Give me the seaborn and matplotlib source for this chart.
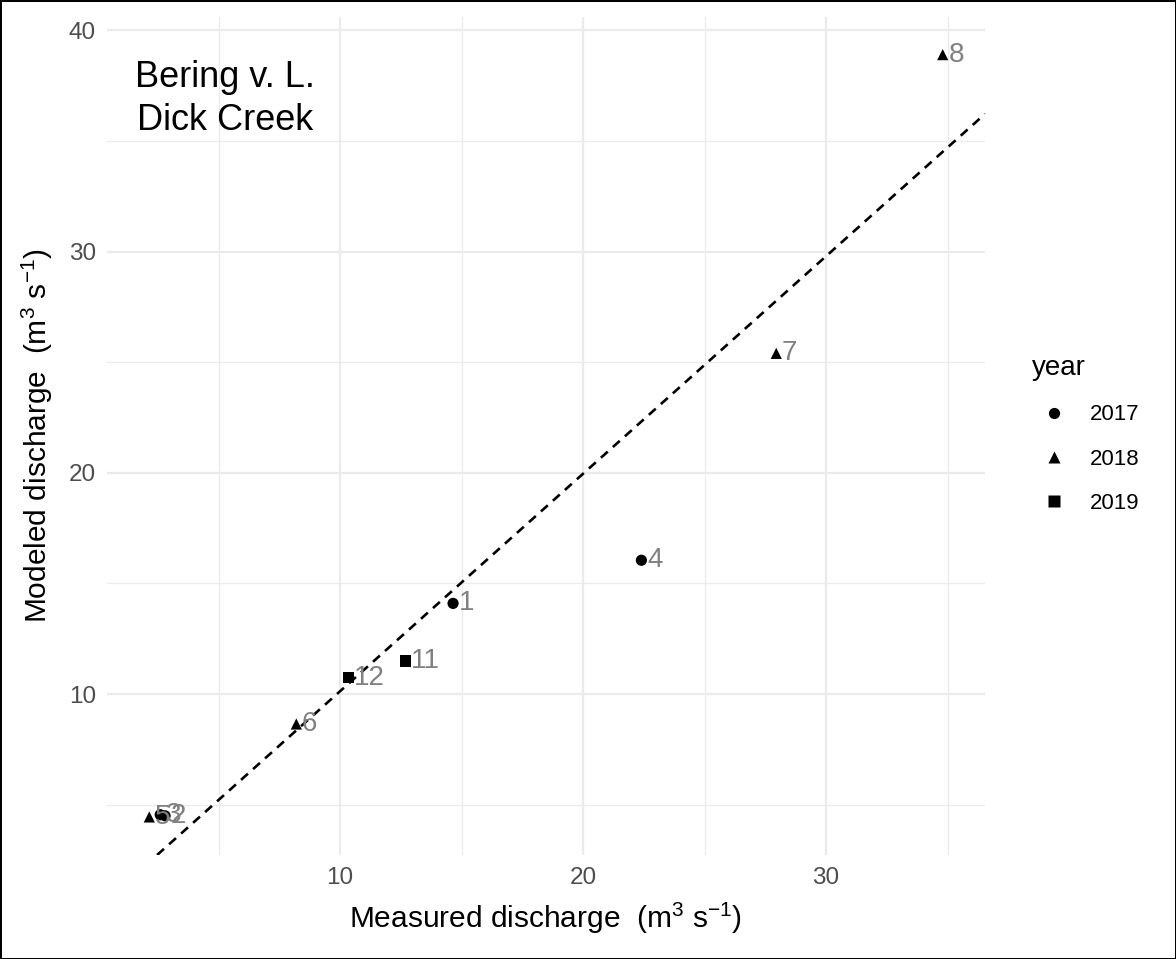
import numpy as np
import pandas as pd
import matplotlib
matplotlib.use("Agg")
import matplotlib.pyplot as plt
from matplotlib.ticker import MultipleLocator
import seaborn as sns

# -------------------------
# Data
# -------------------------
labels = ["1", "2", "3", "4", "5", "6", "7", "8", "11", "12"]
years = ["2017", "2017", "2017", "2017", "2018", "2018", "2018", "2018", "2019", "2019"]
measured = [14.65, 2.8, 2.6, 22.4, 2.15, 8.2, 27.95, 34.8, 12.7, 10.35]
modeled = [14.1, 4.5, 4.55, 16.05, 4.45, 8.65, 25.4, 38.9, 11.5, 10.75]

fit_intercept = 0.3
fit_slope = 0.983

site_name = "Bering v. L.\nDick Creek"

df = pd.DataFrame({"label": labels, "year": years,
                   "measured": measured, "modeled": modeled})

# -------------------------
# Style
# -------------------------
sns.set_theme(style="whitegrid")
plt.rcParams["font.family"] = ["Liberation Sans", "DejaVu Sans"]
plt.rcParams["mathtext.fontset"] = "custom"
plt.rcParams["mathtext.rm"] = "Liberation Sans"
plt.rcParams["mathtext.it"] = "Liberation Sans"

fig = plt.figure(figsize=(11.76, 9.59), dpi=100)
ax = fig.add_axes([107 / 1176, 1 - 855 / 959, (985 - 107) / 1176, (855 - 17) / 959])

sns.scatterplot(data=df, x="measured", y="modeled", style="year",
                markers={"2017": "o", "2018": "^", "2019": "s"},
                style_order=["2017", "2018", "2019"],
                color="black", s=65, edgecolor="none", ax=ax, zorder=3)

# fitted line
ax.axline((0, fit_intercept), slope=fit_slope, color="black", lw=1.9,
          linestyle=(0, (3.5, 2.6)), zorder=2)

for lab, xx, yy in zip(df["label"], df["measured"], df["modeled"]):
    ax.annotate(lab, (xx, yy), xytext=(4, 0), textcoords="offset points",
                ha="left", va="center", fontsize=20, color="#808080", zorder=4)

ax.text(5.27, 36.9, site_name, ha="center", va="center", fontsize=26,
        color="black", linespacing=1.3)

ax.set_xlim(0.41, 36.54)
ax.set_ylim(2.73, 40.6)
ax.xaxis.set_major_locator(MultipleLocator(10))
ax.xaxis.set_minor_locator(MultipleLocator(5))
ax.yaxis.set_major_locator(MultipleLocator(10))
ax.yaxis.set_minor_locator(MultipleLocator(5))
ax.grid(which="major", color="#EBEBEB", lw=1.6)
ax.grid(which="minor", color="#EBEBEB", lw=0.9)
ax.tick_params(which="both", length=0, labelsize=17.5, labelcolor="#4D4D4D")
ax.tick_params(axis="x", pad=9)
ax.tick_params(axis="y", pad=8)
for sp in ax.spines.values():
    sp.set_visible(False)

ax.set_xlabel("Measured discharge  (m$^3$ s$^{-1}$)", fontsize=21.5,
              color="black", labelpad=8)
ax.set_ylabel("Modeled discharge  (m$^3$ s$^{-1}$)", fontsize=21.5,
              color="black", labelpad=10)

# legend on the right
handles, leg_labels = ax.get_legend_handles_labels()
leg = ax.legend(handles, leg_labels, title="year", loc="upper left",
                bbox_to_anchor=(1012 / 1176, 1 - 335 / 959),
                bbox_transform=fig.transFigure, frameon=False,
                fontsize=16, title_fontsize=20, labelspacing=1.05,
                handletextpad=0.6, alignment="left")
leg.get_title().set_color("black")
for t in leg.get_texts():
    t.set_color("black")

fig.patch.set_edgecolor("black")
fig.patch.set_linewidth(2)
fig.savefig("out.png", dpi=100, edgecolor=fig.get_edgecolor())
